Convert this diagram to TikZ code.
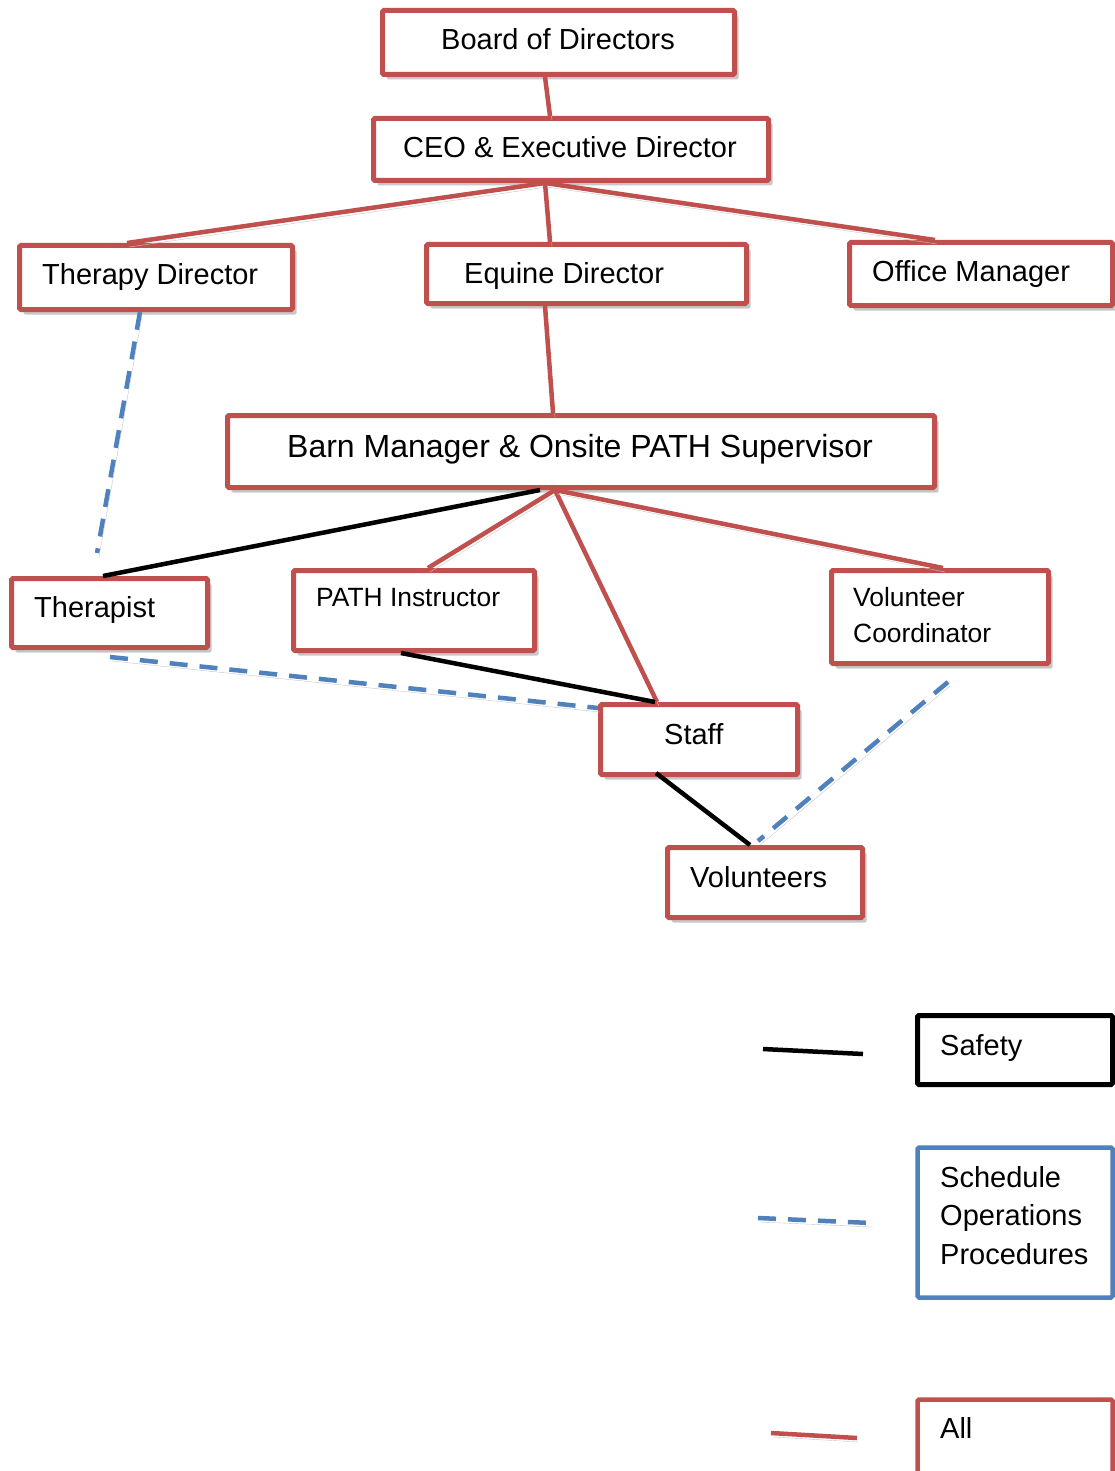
\documentclass[tikz,border=0pt]{standalone}
\usepackage{fontspec}
\setmainfont{Liberation Sans}
\usetikzlibrary{shadows,calc}
\definecolor{rd}{HTML}{C0504D}
\definecolor{bl}{HTML}{4F81BD}
\tikzset{
  box/.style={draw=rd, line width=5pt, fill=white, rectangle, inner sep=0pt, rounded corners=1.5pt,
    drop shadow={shadow xshift=4pt, shadow yshift=-5pt, fill=black, opacity=0.22}},
  legbox/.style={line width=5pt, fill=white, rectangle, inner sep=0pt, rounded corners=1.5pt},
  txt/.style={anchor=base west, inner sep=0pt, font=\fontsize{29}{35}\selectfont},
  smtxt/.style={anchor=base west, inner sep=0pt, font=\fontsize{26.4}{32}\selectfont},
  bigtxt/.style={anchor=base west, inner sep=0pt, font=\fontsize{32}{38}\selectfont},
  lshadow/.style={preaction={draw=black!22, transform canvas={xshift=2pt,yshift=-4pt}}},
  allline/.style={draw=rd, line width=4.5pt, lshadow},
  safeline/.style={draw=black, line width=4.5pt},
  schedline/.style={draw=bl, line width=4.5pt, dash pattern=on 18pt off 12pt, lshadow},
}
\begin{document}
\begin{tikzpicture}[x=1pt,y=-1pt]
\clip (0,0) rectangle (1115,1471);
\fill[white] (0,0) rectangle (1115,1471);
% boxes
\node[box, minimum width=352pt, minimum height=64pt] (board) at (558.5,42.5) {};
\node[box, minimum width=395pt, minimum height=62pt] (ceo) at (571,149.5) {};
\node[box, minimum width=273pt, minimum height=64pt] (thdir) at (156,277.5) {};
\node[box, minimum width=320pt, minimum height=59pt] (equine) at (586.5,274) {};
\node[box, minimum width=263pt, minimum height=63pt] (office) at (981,274) {};
\node[box, minimum width=707pt, minimum height=72pt] (barn) at (581,451.5) {};
\node[box, minimum width=196pt, minimum height=69pt] (therapist) at (109.5,613) {};
\node[box, minimum width=241pt, minimum height=80pt] (path) at (414,610.5) {};
\node[box, minimum width=217pt, minimum height=93pt] (volco) at (940,617) {};
\node[box, minimum width=197pt, minimum height=70pt] (staff) at (699,739.5) {};
\node[box, minimum width=195pt, minimum height=70pt] (vols) at (765,882.5) {};
\node[legbox, draw=black, minimum width=195pt, minimum height=69pt] (safety) at (1015,1050) {};
\node[legbox, draw=bl, line width=4.5pt, minimum width=195pt, minimum height=150pt] (sched) at (1015,1222.5) {};
\node[legbox, draw=rd, line width=4.5pt, minimum width=195pt, minimum height=78pt] (all) at (1015,1438.5) {};
% texts
\node[txt] (tboard) at (441,49.5) {Board of Directors};
\node[txt] (tceo) at (403,157.5) {CEO \& Executive Director};
\node[txt] (tthdir) at (42,284.5) {Therapy Director};
\node[txt] (tequine) at (464,283.5) {Equine Director};
\node[txt] (toffice) at (872,281.5) {Office Manager};
\node[bigtxt] (tbarn) at (287,457.5) {Barn Manager \& Onsite PATH Supervisor};
\node[txt] (ttherapist) at (34,617.5) {Therapist};
\node[smtxt] (tpath) at (316,606.5) {PATH Instructor};
\node[smtxt] (tvolco1) at (853,606.5) {Volunteer};
\node[smtxt] (tvolco2) at (853,642.5) {Coordinator};
\node[txt] (tstaff) at (664,744.5) {Staff};
\node[txt] (tvols) at (690,887.5) {Volunteers};
\node[txt] (tsafety) at (940,1055.5) {Safety};
\node[txt] (tsched1) at (940,1187.5) {Schedule};
\node[txt] (tsched2) at (940,1225.5) {Operations};
\node[txt] (tsched3) at (940,1264.5) {Procedures};
\node[txt] (tall) at (940,1438.5) {All};
% red "All" connectors
\draw[allline] ([xshift=-13.5pt]board.south) -- ([xshift=-21pt]ceo.north);
\draw[allline] ([xshift=-26pt]ceo.south) -- ([xshift=-29pt]thdir.north);
\draw[allline] ([xshift=-26pt]ceo.south) -- ([xshift=-36.5pt]equine.north);
\draw[allline] ([xshift=-26pt]ceo.south) -- ([xshift=-46pt]office.north);
\draw[allline] ([xshift=-41.5pt]equine.south) -- ([xshift=-28pt]barn.north);
\draw[allline] ([xshift=-26pt]barn.south) -- ([xshift=14pt]path.north);
\draw[allline] ([xshift=-26pt]barn.south) -- ([xshift=-42pt]staff.north);
\draw[allline] ([xshift=-26pt]barn.south) -- ([xshift=3pt]volco.north);
% black "Safety" connectors
\draw[safeline] ([xshift=-41pt]barn.south) -- ([xshift=-6.5pt]therapist.north);
\draw[safeline] ([xshift=-13pt]path.south) -- ([xshift=-44pt]staff.north);
\draw[safeline] ([xshift=-43pt,yshift=4pt]staff.south) -- ([xshift=-15pt]vols.north);
% blue dashed connectors
\draw[schedline] ([xshift=-16pt]thdir.south) -- ([xshift=-12.5pt,yshift=23pt]therapist.north);
\draw[schedline] ([xshift=0.5pt,yshift=-7pt]therapist.south) -- ([yshift=-6pt]staff.north west);
\draw[schedline] ([xshift=8pt,yshift=-16pt]volco.south) -- ([xshift=-7pt,yshift=4pt]vols.north);
% legend lines
\coordinate (s1) at (763,1049);
\coordinate (s2) at (863,1054);
\coordinate (b1) at (758,1218);
\coordinate (b2) at (871,1223);
\coordinate (r1) at (771,1433);
\coordinate (r2) at (857,1438);
\draw[safeline] (s1) -- (s2);
\draw[schedline] (b1) -- (b2);
\draw[allline] (r1) -- (r2);
\end{tikzpicture}
\end{document}
